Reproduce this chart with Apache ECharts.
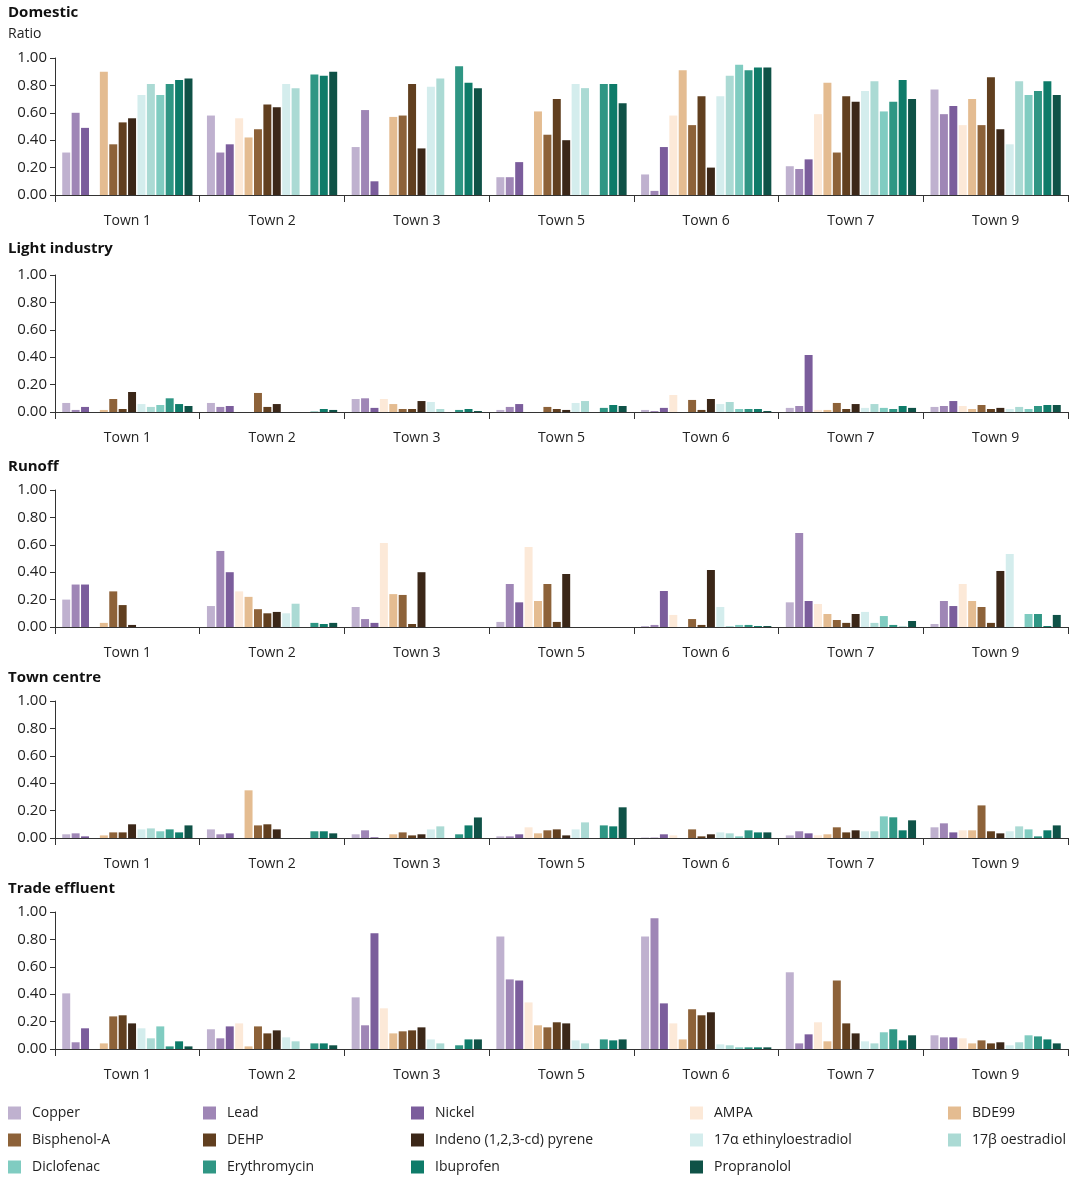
<!DOCTYPE html>
<html>
<head>
<meta charset="utf-8">
<script src="https://cdn.jsdelivr.net/npm/echarts@6/dist/echarts.min.js"></script>
<style>
html,body{margin:0;padding:0;background:#fff;}
#chart{width:1077px;height:1183px;}
</style>
</head>
<body>
<div id="chart"></div>
<script>
const towns = ['Town 1','Town 2','Town 3','Town 5','Town 6','Town 7','Town 9'];
const substances = ['Copper','Lead','Nickel','AMPA','BDE99','Bisphenol-A','DEHP','Indeno (1,2,3-cd) pyrene','17α ethinyloestradiol','17β oestradiol','Diclofenac','Erythromycin','Ibuprofen','Propranolol'];
const colors = ['#bfb1cf','#9f86b6','#7b5d9c','#fce9d8','#e4bc91','#8d6239','#613f1f','#3b2718','#d4eded','#abdad4','#80ccc1','#2f9684','#0e7b69','#0f5247'];
const panelTitles = ['Domestic','Light industry','Runoff','Town centre','Trade effluent'];
const yTickValues = [0, 0.2, 0.4, 0.6, 0.8, 1.0];

// each row = one town, values in substance order
const domestic = [
  [0.31,0.60,0.49,0,0.90,0.37,0.53,0.56,0.73,0.81,0.73,0.81,0.84,0.85],
  [0.58,0.31,0.37,0.56,0.42,0.48,0.66,0.64,0.81,0.78,0,0.88,0.87,0.90],
  [0.35,0.62,0.10,0,0.57,0.58,0.81,0.34,0.79,0.85,0,0.94,0.82,0.78],
  [0.13,0.13,0.24,0,0.61,0.44,0.70,0.40,0.81,0.78,0,0.81,0.81,0.67],
  [0.15,0.03,0.35,0.58,0.91,0.51,0.72,0.20,0.72,0.87,0.95,0.91,0.93,0.93],
  [0.21,0.19,0.26,0.59,0.82,0.31,0.72,0.68,0.76,0.83,0.61,0.68,0.84,0.70],
  [0.77,0.59,0.65,0.51,0.70,0.51,0.86,0.48,0.37,0.83,0.73,0.76,0.83,0.73]
];
const lightIndustry = [
  [0.066,0.015,0.037,0,0.015,0.095,0.022,0.146,0.058,0.037,0.051,0.10,0.058,0.044],
  [0.066,0.037,0.044,0,0,0.139,0.037,0.058,0,0,0,0.003,0.022,0.015],
  [0.095,0.10,0.03,0.095,0.058,0.022,0.022,0.08,0.073,0.022,0,0.015,0.022,0.007],
  [0.015,0.037,0.058,0,0,0.037,0.022,0.015,0.066,0.08,0,0.03,0.051,0.044],
  [0.015,0.007,0.03,0.124,0,0.088,0.015,0.095,0.058,0.073,0.022,0.022,0.022,0.007],
  [0.03,0.044,0.416,0.015,0.015,0.066,0.022,0.058,0.03,0.058,0.03,0.022,0.044,0.03],
  [0.037,0.044,0.08,0.044,0.022,0.051,0.022,0.03,0.022,0.037,0.022,0.044,0.051,0.051]
];
const runoff = [
  [0.20,0.31,0.31,0,0.03,0.26,0.16,0.015,0,0,0,0,0,0],
  [0.153,0.555,0.40,0.26,0.22,0.13,0.10,0.11,0.10,0.17,0,0.03,0.022,0.03],
  [0.146,0.058,0.03,0.613,0.24,0.234,0.022,0.40,0,0,0,0,0,0],
  [0.037,0.314,0.18,0.584,0.19,0.314,0.037,0.387,0,0,0,0,0,0],
  [0.007,0.015,0.263,0.088,0,0.058,0.015,0.416,0.146,0.007,0.015,0.015,0.007,0.007],
  [0.18,0.686,0.19,0.168,0.095,0.051,0.03,0.095,0.11,0.03,0.08,0.015,0.002,0.044],
  [0.022,0.19,0.153,0.314,0.19,0.146,0.03,0.409,0.533,0,0.095,0.095,0.007,0.088]
];
const townCentre = [
  [0.027,0.034,0.012,0,0.019,0.041,0.041,0.10,0.063,0.07,0.049,0.063,0.041,0.092],
  [0.063,0.027,0.034,0,0.348,0.092,0.10,0.063,0,0,0,0.049,0.049,0.034],
  [0.027,0.056,0.005,0,0.027,0.041,0.019,0.027,0.063,0.085,0,0.027,0.092,0.15],
  [0.012,0.012,0.027,0.078,0.034,0.056,0.063,0.019,0.063,0.114,0,0.092,0.085,0.224],
  [0.003,0.003,0.027,0.019,0,0.063,0.012,0.027,0.041,0.034,0.012,0.056,0.041,0.041],
  [0.019,0.049,0.034,0.02,0.027,0.078,0.041,0.056,0.049,0.049,0.158,0.151,0.056,0.129],
  [0.078,0.107,0.041,0.056,0.056,0.238,0.049,0.034,0.049,0.085,0.063,0.012,0.056,0.092]
];
const tradeEffluent = [
  [0.406,0.049,0.151,0,0.041,0.238,0.246,0.187,0.151,0.078,0.165,0.019,0.056,0.019],
  [0.144,0.078,0.165,0.187,0.019,0.165,0.114,0.136,0.085,0.056,0,0.041,0.041,0.027],
  [0.377,0.173,0.844,0.297,0.114,0.129,0.136,0.158,0.07,0.041,0,0.027,0.07,0.07],
  [0.822,0.508,0.50,0.34,0.173,0.158,0.195,0.187,0.063,0.041,0,0.07,0.063,0.07],
  [0.822,0.954,0.333,0.187,0.07,0.29,0.246,0.268,0.034,0.027,0.012,0.012,0.012,0.012],
  [0.56,0.041,0.107,0.195,0.056,0.50,0.187,0.114,0.056,0.041,0.122,0.144,0.063,0.10],
  [0.10,0.085,0.085,0.078,0.041,0.063,0.041,0.049,0.027,0.049,0.10,0.092,0.07,0.041]
];
const panelData = [domestic, lightIndustry, runoff, townCentre, tradeEffluent];

// layout
const FONT = '"Open Sans", "Noto Sans", sans-serif';
const gridTops = [58, 275, 490, 701, 912];
const gridHeight = 137;
const titleY = [12, 248, 466, 677, 888];
const legendCols = [8, 203, 411, 690, 948];
const legendRows = [1113, 1140, 1167];

const grids = [], xAxes = [], yAxes = [], series = [], graphics = [], legends = [];
panelData.forEach((rows, p) => {
  grids.push({left: 55, right: 9, top: gridTops[p], height: gridHeight, containLabel: false});
  xAxes.push({
    type: 'category', gridIndex: p, data: towns,
    axisLine: {lineStyle: {color: '#333', width: 1}},
    axisTick: {show: true, interval: 0, length: 7, lineStyle: {color: '#333'}},
    axisLabel: {interval: 0, margin: 19, fontFamily: FONT, fontSize: 14, color: '#222'}
  });
  yAxes.push({
    type: 'value', gridIndex: p, min: 0, max: 1, interval: 0.2,
    axisLine: {show: true, lineStyle: {color: '#333', width: 1}},
    axisTick: {show: true, length: 5, lineStyle: {color: '#333'}},
    splitLine: {show: false},
    axisLabel: {margin: 8, fontFamily: FONT, fontSize: 15, color: '#222',
      formatter: v => (yTickValues.some(t => Math.abs(t - v) < 1e-9) ? v.toFixed(2) : '')}
  });
  substances.forEach((name, s) => {
    series.push({
      type: 'bar', name: name, xAxisIndex: p, yAxisIndex: p,
      data: rows.map(r => r[s]),
      itemStyle: {color: colors[s]},
      barGap: '18%', barCategoryGap: '10%',
      emphasis: {disabled: true}
    });
  });
  graphics.push({
    type: 'text', left: 8, top: titleY[p] - 7,
    style: {text: panelTitles[p], font: 'bold 15px ' + FONT, fill: '#111'}
  });
});
graphics.push({
  type: 'text', left: 8, top: 27,
  style: {text: 'Ratio', font: '14px ' + FONT, fill: '#222'}
});

substances.forEach((name, i) => {
  const row = Math.floor(i / 5), col = i % 5;
  legends.push({
    data: [name], left: legendCols[col], top: legendRows[row] - 7,
    padding: 0, icon: 'rect', itemWidth: 13, itemHeight: 13,
    selectedMode: false,
    textStyle: {fontFamily: FONT, fontSize: 14, color: '#222', padding: [0, 0, 0, 6]}
  });
});

const chart = echarts.init(document.getElementById('chart'), null, {renderer: 'canvas'});
chart.setOption({
  animation: false,
  backgroundColor: '#fff',
  textStyle: {fontFamily: FONT},
  grid: grids, xAxis: xAxes, yAxis: yAxes,
  legend: legends, graphic: graphics, series: series
});
</script>
</body>
</html>
